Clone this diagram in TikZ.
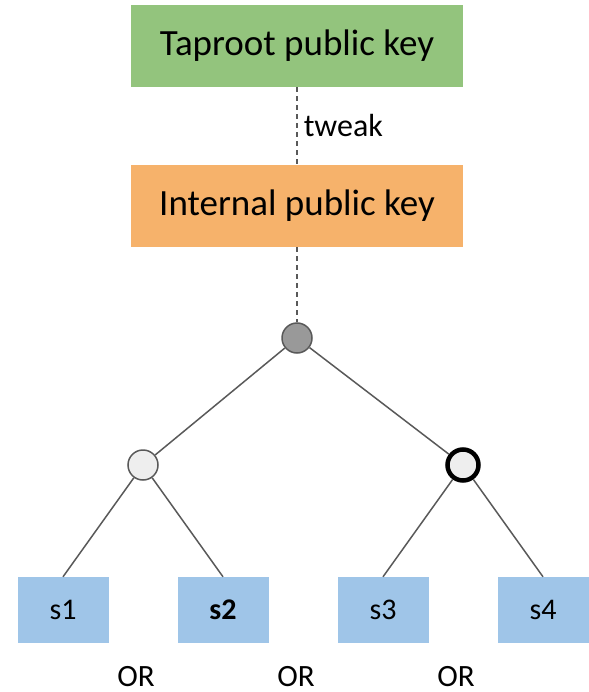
\documentclass[tikz,border=0pt]{standalone}
\usepackage{fontspec}
\setmainfont{Carlito}
\definecolor{keygreen}{HTML}{93C47D}
\definecolor{keyorange}{HTML}{F6B26B}
\definecolor{leafblue}{HTML}{9FC5E8}
\definecolor{edgegray}{HTML}{595959}
\definecolor{rootgray}{HTML}{999999}
\definecolor{lightgray}{HTML}{EEEEEE}
\begin{document}
\begin{tikzpicture}[x=1pt,y=-1pt,
  keybox/.style={minimum width=332pt,minimum height=82pt,inner sep=0pt,font=\fontsize{37}{42}\selectfont},
  leafbox/.style={fill=leafblue,minimum width=91pt,minimum height=66pt,inner sep=0pt,font=\fontsize{30}{34}\selectfont},
  treenode/.style={circle,draw=edgegray,line width=1.5pt,minimum size=30pt,inner sep=0pt},
  edge/.style={draw=edgegray,line width=1.5pt},
  dashedge/.style={draw=edgegray,line width=1.5pt,dash pattern=on 5pt off 4pt},
  orlabel/.style={font=\fontsize{31}{34}\selectfont,inner sep=0pt}]
\useasboundingbox (0,0) rectangle (588,692);
\node[keybox,fill=keygreen] (tap) at (297,46) {Taproot public key};
\node[keybox,fill=keyorange] (int) at (297,206) {Internal public key};
\node[treenode,fill=rootgray] (root) at (297,338) {};
\node[treenode,fill=lightgray] (left) at (143,465) {};
\node[treenode,fill=lightgray,draw=black,line width=4.5pt,minimum size=31pt] (right) at (463,465) {};
\node[leafbox] (s1) at (63,610) {s1};
\node[leafbox] (s2) at (223,610) {\textbf{s2}};
\node[leafbox] (s3) at (383,610) {s3};
\node[leafbox] (s4) at (543,610) {s4};
\node[orlabel] (or1) at (136,677) {OR};
\node[orlabel] (or2) at (296,677) {OR};
\node[orlabel] (or3) at (456,677) {OR};
\draw[dashedge] (tap.south) -- node[right,font=\fontsize{32}{36}\selectfont,inner sep=6pt] (tw) {tweak} (int.north);
\draw[dashedge] (int.south) -- (root.north);
\draw[edge] (root) -- (left);
\draw[edge] (root) -- (right);
\draw[edge] (left) -- (s1.north);
\draw[edge] (left) -- (s2.north);
\draw[edge] (right) -- (s3.north);
\draw[edge] (right) -- (s4.north);
\end{tikzpicture}
\end{document}
